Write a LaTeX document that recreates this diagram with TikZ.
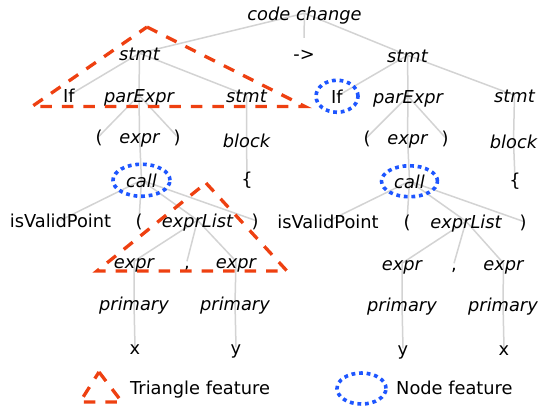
\documentclass[tikz,border=0pt]{standalone}
\usepackage{fontspec}
\setmainfont{DejaVu Sans}
\usetikzlibrary{shapes.geometric, backgrounds}

\definecolor{featred}{HTML}{EE4011}
\definecolor{featblue}{HTML}{1E56FF}
\definecolor{edgegray}{HTML}{D3D3D3}

\begin{document}
\begin{tikzpicture}[x=1pt, y=-1pt,
  every node/.style={font=\fontsize{17.8}{21}\selectfont, anchor=base,
    text height=13.5pt, text depth=0pt, inner sep=2pt},
  nonterm/.style={font=\fontsize{17.8}{21}\selectfont\itshape},
  nodefeat/.style={ellipse, draw=featblue, line width=3.6pt,
    dash pattern=on 3.8pt off 3.8pt, inner sep=0pt},
  trifeat/.style={draw=featred, line width=3.3pt, dash pattern=on 11.5pt off 10pt},
  edge/.style={draw=edgegray, line width=1.5pt},
]
  \useasboundingbox (0,0) rectangle (538,408);

  \node[nonterm] (root) at (304.5,20) {code change};
  \node[nonterm] (stmtA) at (139.5,60) {stmt};
  \node[text height=20pt] (arrow) at (304,60) {->};
  \node[nonterm] (stmtB) at (407.5,62) {stmt};

  % left tree
  \node (ifA) at (69,102) {If};
  \node[nonterm] (parA) at (139,102) {parExpr};
  \node[nonterm] (stmtA2) at (246.5,102) {stmt};
  \node (lpA) at (99,143) {(};
  \node[nonterm] (exprA) at (139.5,143) {expr};
  \node (rpA) at (177,143) {)};
  \node[nonterm] (blockA) at (246.5,147) {block};
  \node[nonterm, nodefeat, minimum width=57pt, minimum height=32pt] (callA) at (141.5,187) {call};
  \node (braceA) at (247,185) {\{};
  \node (validA) at (60.5,227) {isValidPoint};
  \node (lpA2) at (139,227) {(};
  \node[nonterm] (listA) at (197.5,227) {exprList};
  \node (rpA2) at (255,227) {)};
  \node[nonterm] (eA1) at (134,268) {expr};
  \node (commaA) at (187,268) {,};
  \node[nonterm] (eA2) at (236,268) {expr};
  \node[nonterm] (primA1) at (134,310) {primary};
  \node[nonterm] (primA2) at (235,310) {primary};
  \node (xA) at (135,354) {x};
  \node (yA) at (236,354) {y};

  % right tree
  \node[nodefeat, minimum width=42pt, minimum height=32pt] (ifB) at (337,103) {If};
  \node[nonterm] (parB) at (408,103) {parExpr};
  \node[nonterm] (stmtB2) at (514.5,102) {stmt};
  \node (lpB) at (367,144) {(};
  \node[nonterm] (exprB) at (407.5,144) {expr};
  \node (rpB) at (445,144) {)};
  \node[nonterm] (blockB) at (513.5,148) {block};
  \node[nonterm, nodefeat, minimum width=56pt, minimum height=31pt] (callB) at (409.5,188) {call};
  \node (braceB) at (515,186) {\{};
  \node (validB) at (328,228) {isValidPoint};
  \node (lpB2) at (407,228) {(};
  \node[nonterm] (listB) at (466,228) {exprList};
  \node (rpB2) at (523,228) {)};
  \node[nonterm] (eB1) at (402,270) {expr};
  \node (commaB) at (454,270) {,};
  \node[nonterm] (eB2) at (503.5,270) {expr};
  \node[nonterm] (primB1) at (402,311) {primary};
  \node[nonterm] (primB2) at (503,311) {primary};
  \node (yB) at (403,355) {y};
  \node (xB) at (504,355) {x};

  % connectors run centre to centre, under the labels
  \begin{scope}[on background layer]
    \draw[edge] (root.center) -- (stmtA.center) (root.center) -- (arrow.north) (root.center) -- (stmtB.center);
    \draw[edge] (stmtA.center) -- (ifA.center) (stmtA.center) -- (parA.center) (stmtA.center) -- (stmtA2.center);
    \draw[edge] (parA.center) -- (lpA.center) (parA.center) -- (exprA.center) (parA.center) -- (rpA.center);
    \draw[edge] (exprA.center) -- (callA.center) (stmtA2.center) -- (blockA.center) -- (braceA.center);
    \draw[edge] (callA.center) -- (validA.center) (callA.center) -- (lpA2.center) (callA.center) -- (listA.center) (callA.center) -- (rpA2.center);
    \draw[edge] (listA.center) -- (eA1.center) (listA.center) -- (commaA.center) (listA.center) -- (eA2.center);
    \draw[edge] (eA1.center) -- (primA1.center) -- (xA.center) (eA2.center) -- (primA2.center) -- (yA.center);
    \draw[edge] (stmtB.center) -- (ifB.center) (stmtB.center) -- (parB.center) (stmtB.center) -- (stmtB2.center);
    \draw[edge] (parB.center) -- (lpB.center) (parB.center) -- (exprB.center) (parB.center) -- (rpB.center);
    \draw[edge] (exprB.center) -- (callB.center) (stmtB2.center) -- (blockB.center) -- (braceB.center);
    \draw[edge] (callB.center) -- (validB.center) (callB.center) -- (lpB2.center) (callB.center) -- (listB.center) (callB.center) -- (rpB2.center);
    \draw[edge] (listB.center) -- (eB1.center) (listB.center) -- (commaB.center) (listB.center) -- (eB2.center);
    \draw[edge] (eB1.center) -- (primB1.center) -- (yB.center) (eB2.center) -- (primB2.center) -- (xB.center);
  \end{scope}

  % triangle features
  \draw[trifeat] (147,27) -- (305,106.5) -- (32,106.5) -- cycle;
  \draw[trifeat] (206,183) -- (287,271) -- (97,271) -- cycle;

  % legend
  \draw[trifeat] (99,372) -- (122,402) -- (80,402) -- cycle;
  \node[anchor=base west] (trilabel) at (128,394) {Triangle feature};
  \node[nodefeat, anchor=center, minimum width=49pt, minimum height=31pt] (nodelegend) at (361.5,388.5) {};
  \node[anchor=base west] (nodelabel) at (394,394) {Node feature};
\end{tikzpicture}
\end{document}
